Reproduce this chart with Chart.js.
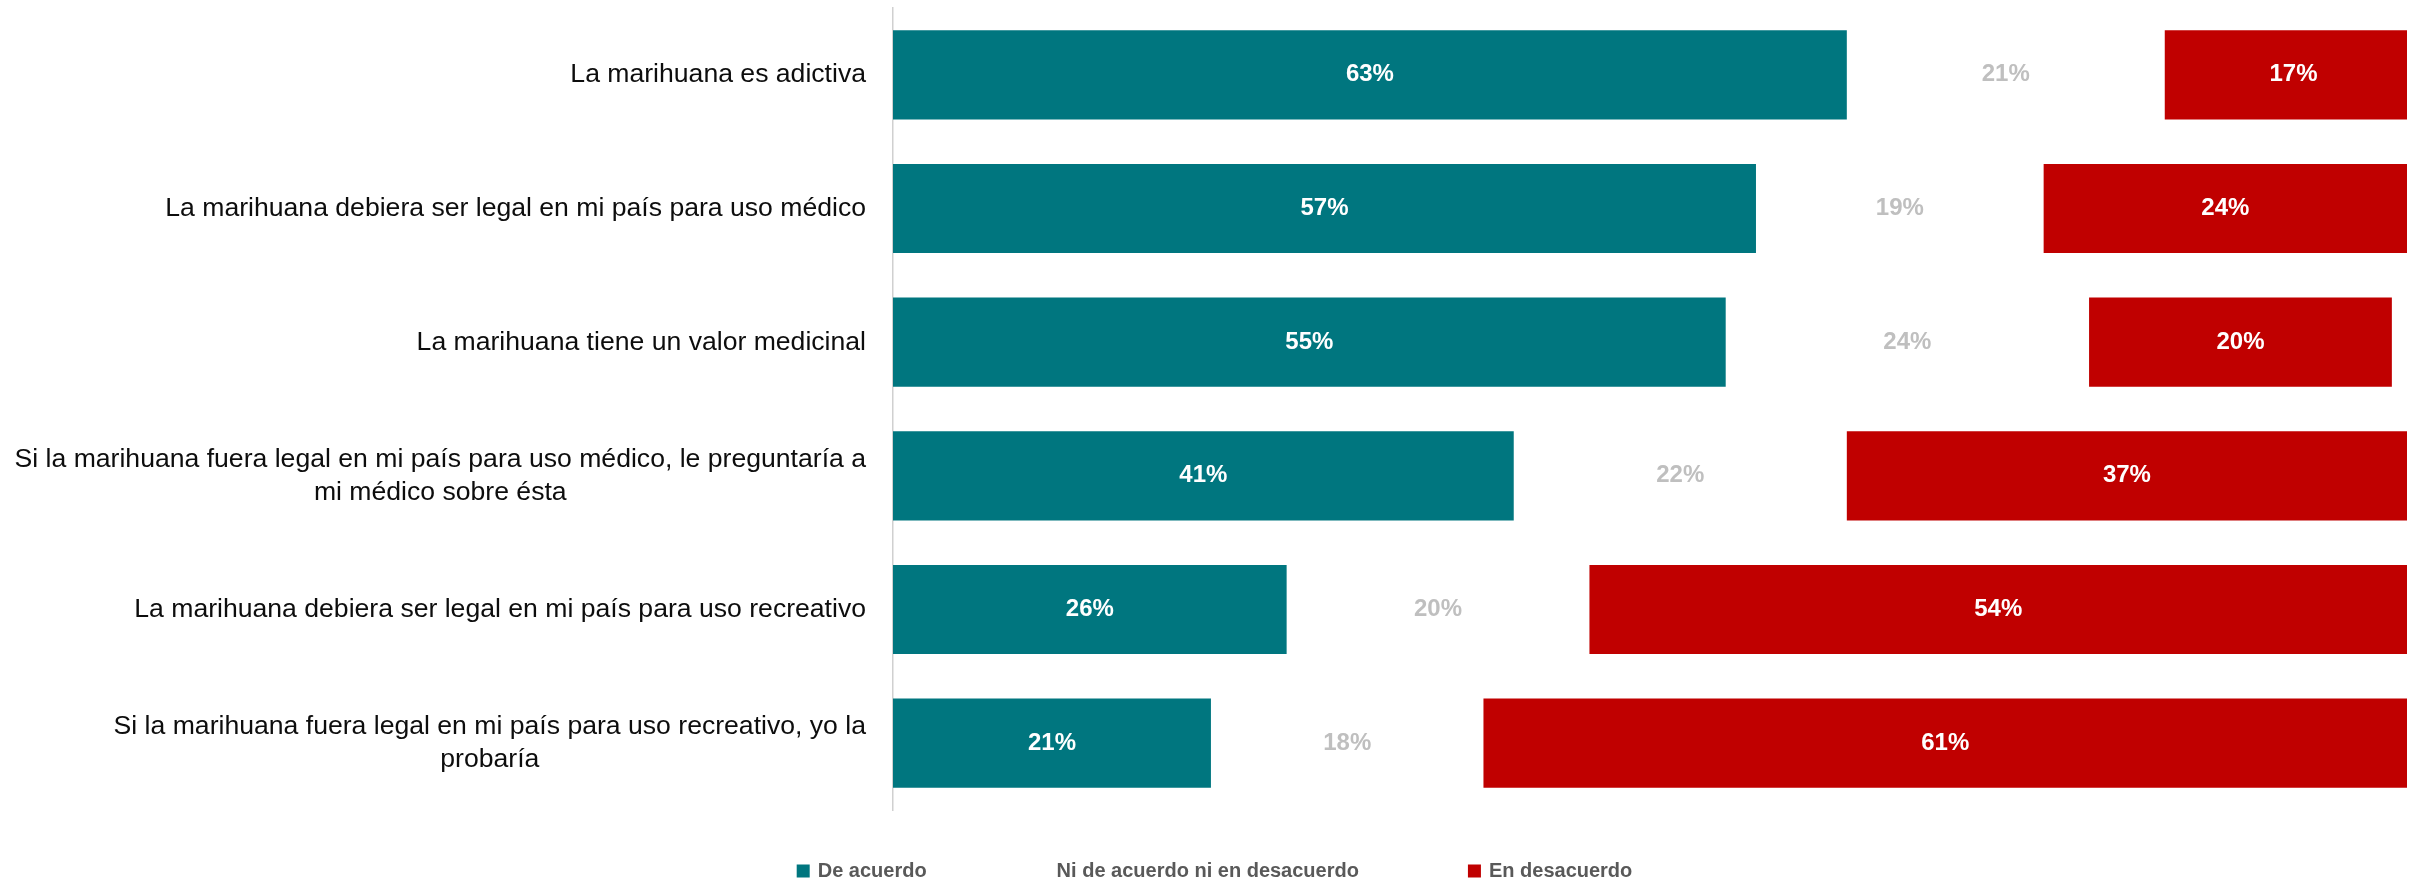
<!DOCTYPE html>
<html lang="es">
<head>
<meta charset="utf-8">
<title>Marihuana</title>
<script src="https://cdn.jsdelivr.net/npm/chart.js@4.4.1/dist/chart.umd.min.js"></script>
<style>
  body { margin: 0; background: #ffffff; }
  canvas { display: block; }
</style>
</head>
<body>
<canvas id="chartMarihuana" width="2415" height="880"></canvas>
<script>
// data
const preguntas = [
    'La marihuana es adictiva',
    'La marihuana debiera ser legal en mi país para uso médico',
    'La marihuana tiene un valor medicinal',
    ['Si la marihuana fuera legal en mi país para uso médico, le preguntaría a', 'mi médico sobre ésta'],
    'La marihuana debiera ser legal en mi país para uso recreativo',
    ['Si la marihuana fuera legal en mi país para uso recreativo, yo la', 'probaría']
];
const deAcuerdo = [63, 57, 55, 41, 26, 21];
const niNi = [21, 19, 24, 22, 20, 18];
const enDesacuerdo = [17, 24, 20, 37, 54, 61];
const seriesNames = ['De acuerdo', 'Ni de acuerdo ni en desacuerdo', 'En desacuerdo'];

const fontFam = '"Liberation Sans", Arial, sans-serif';
const ctx = document.getElementById('chartMarihuana').getContext('2d');

// percentages inside the bars
const valueLabels = {
    id: 'valueLabels',
    afterDatasetsDraw(chart) {
        const c = chart.ctx;
        c.save();
        c.font = 'bold 24px ' + fontFam;
        c.textAlign = 'center';
        c.textBaseline = 'middle';
        chart.data.datasets.forEach(function(ds, i) {
            const meta = chart.getDatasetMeta(i);
            c.fillStyle = ds.labelColor;
            meta.data.forEach(function(bar, j) {
                const p = bar.getCenterPoint();
                c.fillText(ds.data[j] + '%', p.x, p.y);
            });
        });
        c.restore();
    }
};

// category labels, wrapped lines centered like excel does
const categoryLabels = {
    id: 'categoryLabels',
    afterDraw(chart) {
        const c = chart.ctx;
        const yScale = chart.scales.y;
        c.save();
        c.font = '26.6px ' + fontFam;
        c.fillStyle = '#0d0d0d';
        c.textAlign = 'center';
        c.textBaseline = 'middle';
        preguntas.forEach(function(lab, i) {
            const lines = Array.isArray(lab) ? lab : [lab];
            let widest = 0;
            lines.forEach(function(l) { widest = Math.max(widest, c.measureText(l).width); });
            const cx = yScale.right - 27 - widest / 2;
            const cy = yScale.getPixelForValue(i);
            lines.forEach(function(l, k) {
                c.fillText(l, cx, cy + (k - (lines.length - 1) / 2) * 33);
            });
        });
        c.restore();
    }
};

// legend at the bottom
const bottomLegend = {
    id: 'bottomLegend',
    afterDraw(chart) {
        const c = chart.ctx;
        const box = 13;
        const gap = 8;
        const spacing = 109;
        c.save();
        c.font = 'bold 20px ' + fontFam;
        c.textBaseline = 'middle';
        c.textAlign = 'left';
        const items = chart.data.datasets.map(function(ds) {
            return { text: ds.label, color: ds.backgroundColor, w: box + gap + c.measureText(ds.label).width };
        });
        let total = spacing * (items.length - 1);
        items.forEach(function(it) { total += it.w; });
        let x = chart.width / 2 + 7 - total / 2;
        const y = 871;
        items.forEach(function(it) {
            c.fillStyle = it.color;
            c.fillRect(x, y - box / 2, box, box);
            c.fillStyle = '#595959';
            c.fillText(it.text, x + box + gap, y);
            x += it.w + spacing;
        });
        c.restore();
    }
};

let chart = new Chart(ctx, {
    type: 'bar',
    data: {
        labels: preguntas,
        datasets: [{
            label: seriesNames[0],
            data: deAcuerdo,
            backgroundColor: '#00767F',
            labelColor: '#ffffff'
        }, {
            label: seriesNames[1],
            data: niNi,
            backgroundColor: 'rgba(255,255,255,0)',
            labelColor: '#BFBFBF'
        }, {
            label: seriesNames[2],
            data: enDesacuerdo,
            backgroundColor: '#C00000',
            labelColor: '#ffffff'
        }]
    },
    options: {
        indexAxis: 'y',
        responsive: false,
        animation: false,
        layout: { padding: { top: 8, right: 8, bottom: 70, left: 0 } },
        datasets: {
            bar: { barPercentage: 0.667, categoryPercentage: 1, clip: 0 }
        },
        scales: {
            x: { stacked: true, min: 0, max: 100, display: false },
            y: {
                stacked: true,
                grid: { display: false },
                border: { display: true, color: '#D0D0D0', width: 1.5 },
                ticks: { display: false },
                afterFit: function(scale) { scale.width = 893; }
            }
        },
        plugins: {
            legend: { display: false },
            tooltip: { enabled: false }
        }
    },
    plugins: [valueLabels, categoryLabels, bottomLegend]
});
</script>
</body>
</html>
